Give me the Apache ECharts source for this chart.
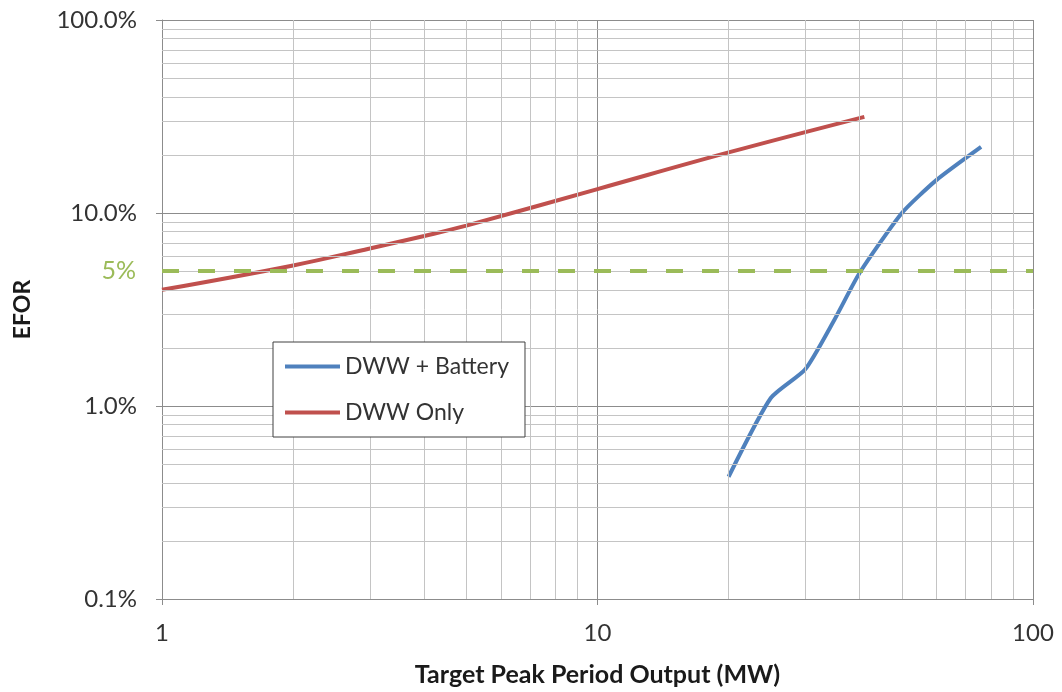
<!DOCTYPE html>
<html>
<head>
<meta charset="utf-8">
<script src="https://cdn.jsdelivr.net/npm/echarts@6/dist/echarts.min.js"></script>
<style>html,body{margin:0;padding:0;background:#fff;}#c{width:1062px;height:692px;}</style>
</head>
<body>
<div id="c"></div>
<script>
// Data (EFOR in percent)
const batteryX = [20, 25, 30, 35, 40, 50, 60, 76];
const batteryY = [0.43, 1.1, 1.55, 2.8, 4.9, 10.0, 14.8, 22.0];
const onlyX = [1, 2, 3, 4, 5, 10, 20, 41];
const onlyY = [4.0, 5.35, 6.55, 7.6, 8.6, 13.3, 20.6, 31.5];
const targetLevel = 5;
const xMinorGrid = [2, 3, 4, 5, 6, 7, 8, 9, 20, 30, 40, 50, 60, 70, 80, 90];
const yMinorGrid = [0.2, 0.3, 0.4, 0.5, 0.6, 0.7, 0.8, 0.9, 2, 3, 4, 5, 6, 7, 8, 9, 20, 30, 40, 50, 60, 70, 80, 90];
const xLabels = ['1', '10', '100'];
const yLabels = ['0.1%', '1.0%', '10.0%', '100.0%'];
const seriesNames = ['DWW + Battery', 'DWW Only'];

const FONT = 'Lato';
const chart = echarts.init(document.getElementById('c'));
const gridLines = [];
xMinorGrid.forEach(v => gridLines.push({ xAxis: v }));
yMinorGrid.forEach(v => gridLines.push({ yAxis: v }));

chart.setOption({
  animation: false,
  backgroundColor: '#ffffff',
  textStyle: { fontFamily: FONT },
  grid: { left: 162, right: 29, top: 20, bottom: 93 },
  legend: {
    orient: 'vertical',
    left: 273, top: 342,
    z: 20, zlevel: 0,
    padding: [13, 16, 13, 12],
    itemGap: 23,
    itemWidth: 55, itemHeight: 4,
    icon: 'rect',
    backgroundColor: '#ffffff',
    borderColor: '#404040', borderWidth: 1,
    textStyle: { fontSize: 23, color: '#333333', fontFamily: FONT },
    data: seriesNames
  },
  xAxis: {
    type: 'log', logBase: 10, min: 1, max: 100,
    name: 'Target Peak Period Output (MW)',
    nameLocation: 'middle', nameGap: 63,
    nameTextStyle: { fontSize: 25, fontWeight: 'bold', color: '#1a1a1a', fontFamily: FONT },
    axisLine: { show: true, lineStyle: { color: '#8c8c8c', width: 1 } },
    axisTick: { show: true, length: 6, lineStyle: { color: '#8c8c8c' } },
    axisLabel: { fontSize: 24, color: '#333333', margin: 22, formatter: v => xLabels[Math.round(Math.log10(v))] },
    splitLine: { show: true, lineStyle: { color: '#8c8c8c', width: 1 } },
    minorTick: { show: false }, minorSplitLine: { show: false }
  },
  yAxis: {
    type: 'log', logBase: 10, min: 0.1, max: 100,
    name: 'EFOR',
    nameLocation: 'middle', nameGap: 128, nameRotate: 90,
    nameTextStyle: { fontSize: 23, fontWeight: 'bold', color: '#1a1a1a', fontFamily: FONT },
    axisLine: { show: true, lineStyle: { color: '#8c8c8c', width: 1 } },
    axisTick: { show: true, length: 6, lineStyle: { color: '#8c8c8c' } },
    axisLabel: { fontSize: 24, color: '#333333', margin: 25, formatter: v => yLabels[Math.round(Math.log10(v)) + 1] },
    splitLine: { show: true, lineStyle: { color: '#8c8c8c', width: 1 } }
  },
  series: [
    {
      name: 'grid', type: 'line', data: [], z: 1, silent: true,
      markLine: {
        silent: true, symbol: 'none', animation: false,
        label: { show: false },
        lineStyle: { color: '#c4c4c4', width: 1, type: 'solid' },
        data: gridLines
      }
    },
    {
      name: 'target', type: 'line', data: [], z: 2, silent: true,
      markLine: {
        silent: true, symbol: 'none', animation: false,
        lineStyle: { color: '#9bbb59', width: 4, type: [17, 19] },
        label: { show: true, position: 'start', formatter: '5%', color: '#9bbb59', fontSize: 25, fontFamily: FONT, distance: 26 },
        data: [{ yAxis: targetLevel }]
      }
    },
    {
      name: seriesNames[0], type: 'line', smooth: 0.2, showSymbol: false, symbol: 'none', z: 3,
      color: '#4f81bd',
      lineStyle: { color: '#4f81bd', width: 4 },
      data: batteryX.map((x, i) => [x, batteryY[i]])
    },
    {
      name: seriesNames[1], type: 'line', smooth: 0.4, showSymbol: false, symbol: 'none', z: 3,
      color: '#c0504d',
      lineStyle: { color: '#c0504d', width: 4 },
      data: onlyX.map((x, i) => [x, onlyY[i]])
    }
  ]
});
</script>
</body>
</html>
